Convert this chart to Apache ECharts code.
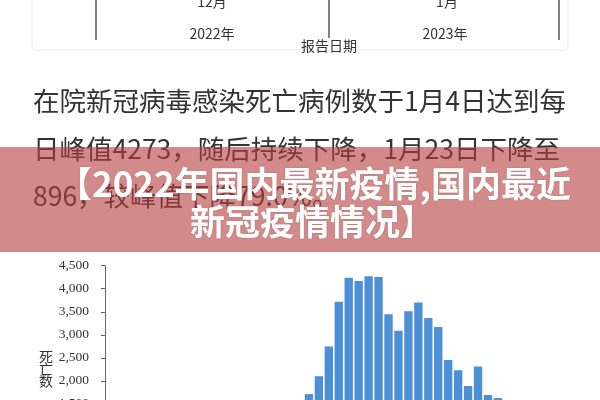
<!DOCTYPE html>
<html>
<head>
<meta charset="utf-8">
<script src="https://cdn.jsdelivr.net/npm/echarts@6/dist/echarts.min.js"></script>
<style>html,body{margin:0;padding:0;background:#fff;overflow:hidden}#c{width:600px;height:480px}</style>
</head>
<body>
<div id="c"></div>
<script>
// ---- data ----
const dates = ['12/9','12/10','12/11','12/12','12/13','12/14','12/15','12/16','12/17','12/18',
  '12/19','12/20','12/21','12/22','12/23','12/24','12/25','12/26','12/27','12/28',
  '12/29','12/30','12/31','1/1','1/2','1/3','1/4','1/5','1/6','1/7','1/8','1/9','1/10',
  '1/11','1/12','1/13','1/14','1/15','1/16','1/17','1/18','1/19','1/20','1/21','1/22','1/23'];
const deaths = [20,40,60,90,120,160,200,250,300,360,420,490,570,660,760,870,990,1110,1240,1380,
  1713,2101,2748,3718,4241,4170,4273,4256,3444,3086,3509,3703,3366,3172,2453,2231,1886,2310,1692,1627,
  1450,1320,1180,1060,970,896];
const yTicks = [0,500,1000,1500,2000,2500,3000,3500,4000,4500];
const topMonthLabels = ['12月','1月'];
const topYearLabels = ['2022年','2023年'];
const topAxisTitle = '报告日期';
const paragraph = ['在院新冠病毒感染死亡病例数于1月4日达到每','日峰值4273，随后持续下降，1月23日下降至','896，较峰值下降79.0%。'];
const bannerTitle = ['【2022年国内最新疫情,国内最近','新冠疫情情况】'];
const yAxisTitle = '死亡数';

const chart = echarts.init(document.getElementById('c'), null, {renderer:'canvas'});
const sans = '"Noto Sans CJK SC","Noto Sans",sans-serif';
const serif = '"Liberation Serif","Noto Sans CJK SC",serif';
const graphics = [
  {type:'rect', z:0, shape:{x:32,y:-20,width:536,height:70,r:4}, style:{fill:'#fff',stroke:'#ededed',lineWidth:1}},
  {type:'line', z:1, shape:{x1:96,y1:0,x2:96,y2:40}, style:{stroke:'#555',lineWidth:1.5}},
  {type:'line', z:1, shape:{x1:329,y1:0,x2:329,y2:38}, style:{stroke:'#555',lineWidth:1.5}},
  {type:'line', z:1, shape:{x1:559,y1:0,x2:559,y2:40}, style:{stroke:'#555',lineWidth:1.5}},
  {type:'text', z:1, style:{text:topMonthLabels[0],x:212,y:2,textAlign:'center',textVerticalAlign:'middle',font:'14px '+sans,fill:'#333'}},
  {type:'text', z:1, style:{text:topMonthLabels[1],x:447,y:2,textAlign:'center',textVerticalAlign:'middle',font:'14px '+sans,fill:'#333'}},
  {type:'text', z:1, style:{text:topYearLabels[0],x:212,y:34,textAlign:'center',textVerticalAlign:'middle',font:'14px '+sans,fill:'#333'}},
  {type:'text', z:1, style:{text:topYearLabels[1],x:445,y:34,textAlign:'center',textVerticalAlign:'middle',font:'14px '+sans,fill:'#333'}},
  {type:'text', z:1, style:{text:topAxisTitle,x:329,y:46,textAlign:'center',textVerticalAlign:'middle',font:'14px '+sans,fill:'#333'}},
  {type:'text', z:1, style:{text:paragraph[0],x:33,y:101,textAlign:'left',textVerticalAlign:'middle',font:'26.5px '+sans,fill:'#333'}},
  {type:'text', z:1, style:{text:paragraph[1],x:33,y:149,textAlign:'left',textVerticalAlign:'middle',font:'26.5px '+sans,fill:'#333'}},
  {type:'text', z:1, style:{text:paragraph[2],x:33,y:196,textAlign:'left',textVerticalAlign:'middle',font:'26.5px '+sans,fill:'#333'}},
  {type:'text', z:1, style:{text:'死\n亡\n数',x:46,y:370,textAlign:'center',textVerticalAlign:'middle',font:'14px '+serif,lineHeight:12,fill:'#333'}},
  {type:'rect', z:50, shape:{x:0,y:147,width:600,height:105}, style:{fill:'rgba(180,60,60,0.6)'}},
  {type:'text', z:51, style:{text:bannerTitle[0],x:57,y:184,textAlign:'left',textVerticalAlign:'middle',font:'bold 35px '+sans,fill:'#fff',textShadowColor:'rgba(0,0,0,0.15)',textShadowBlur:2}},
  {type:'text', z:51, style:{text:bannerTitle[1],x:190,y:222,textAlign:'left',textVerticalAlign:'middle',font:'bold 35px '+sans,fill:'#fff',textShadowColor:'rgba(0,0,0,0.15)',textShadowBlur:2}}
];
chart.setOption({
  animation:false,
  backgroundColor:'#fff',
  grid:{left:105,right:37.4,top:265.7,bottom:5.5,containLabel:false},
  xAxis:{type:'category',data:dates,axisLine:{show:false},axisTick:{show:false},axisLabel:{show:false},boundaryGap:true},
  yAxis:{type:'value',min:yTicks[0],max:yTicks[yTicks.length-1],interval:500,
    axisLine:{show:true,lineStyle:{color:'#666',width:1}},
    axisTick:{show:true,length:4,lineStyle:{color:'#666'}},
    splitLine:{show:false},
    axisLabel:{margin:16,fontFamily:'"Liberation Serif",serif',fontSize:13.5,color:'#333',
      formatter:v=>v.toLocaleString('en-US')}},
  series:[{type:'bar',data:deaths,barCategoryGap:'16%',itemStyle:{color:'#4d8fd6'},z:2}],
  graphic:{elements:graphics}
});
</script>
</body>
</html>
